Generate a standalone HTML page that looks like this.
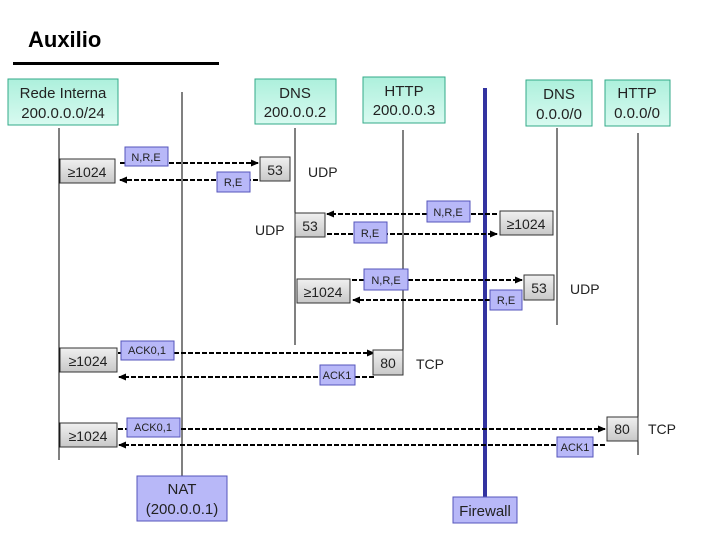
<!DOCTYPE html>
<html><head><style>body{margin:0;background:#fff}svg{display:block}text{font-family:"Liberation Sans",sans-serif}</style></head><body>
<svg width="720" height="540" viewBox="0 0 720 540" xmlns="http://www.w3.org/2000/svg">
<defs>
<linearGradient id="g" x1="0" y1="0" x2="0" y2="1"><stop offset="0" stop-color="#adf0dc"/><stop offset="1" stop-color="#d8faf0"/></linearGradient>
<linearGradient id="gr" x1="0" y1="0" x2="0" y2="1"><stop offset="0" stop-color="#f0f0f0"/><stop offset="1" stop-color="#c8c8c8"/></linearGradient>
<marker id="a" markerWidth="8" markerHeight="8" refX="7" refY="4" orient="auto" markerUnits="userSpaceOnUse"><path d="M0,0.5 L8,4 L0,7.5z" fill="#000"/></marker>
</defs>
<text x="28" y="47" font-size="22" font-weight="bold">Auxilio</text>
<rect x="13" y="62" width="206" height="3" fill="#000"/>
<g stroke="#000" stroke-width="1">
<line x1="59" y1="128" x2="59" y2="460"/>
<line x1="182" y1="92" x2="182" y2="478"/>
<line x1="295" y1="128" x2="295" y2="345"/>
<line x1="403" y1="130" x2="403" y2="370"/>
<line x1="557" y1="128" x2="557" y2="325"/>
<line x1="638" y1="133" x2="638" y2="455"/>
</g>
<line x1="485" y1="88" x2="485" y2="497" stroke="#3333a0" stroke-width="4"/>
<g fill="url(#g)" stroke="#33aa88" stroke-width="1">
<rect x="8" y="79" width="110" height="46"/>
<rect x="255" y="79" width="81" height="45"/>
<rect x="363" y="77" width="82" height="46"/>
<rect x="526" y="80" width="66" height="46"/>
<rect x="605" y="80" width="65" height="46"/>
</g>
<g font-size="15" text-anchor="middle" fill="#222">
<text x="63" y="98">Rede Interna</text><text x="63" y="118">200.0.0.0/24</text>
<text x="295" y="98">DNS</text><text x="295" y="117">200.0.0.2</text>
<text x="404" y="96">HTTP</text><text x="404" y="115">200.0.0.3</text>
<text x="559" y="99">DNS</text><text x="559" y="119">0.0.0/0</text>
<text x="637" y="98">HTTP</text><text x="637" y="118">0.0.0/0</text>
</g>
<g stroke="#000" stroke-width="2" stroke-dasharray="5,2" fill="none" marker-end="url(#a)">
<line x1="120" y1="163" x2="258" y2="163"/>
<line x1="258" y1="180" x2="120" y2="180"/>
<line x1="497" y1="214" x2="327" y2="214"/>
<line x1="327" y1="234" x2="497" y2="234"/>
<line x1="352" y1="280" x2="522" y2="280"/>
<line x1="490" y1="300" x2="353" y2="300"/>
<line x1="118" y1="353" x2="374" y2="353"/>
<line x1="374" y1="377" x2="119" y2="377"/>
<line x1="118" y1="429" x2="605" y2="429"/>
<line x1="605" y1="445" x2="119" y2="445"/>
</g>
<g fill="url(#gr)" stroke="#333" stroke-width="1">
<rect x="60" y="159" width="55" height="24"/>
<rect x="260" y="157" width="30" height="24"/>
<rect x="295" y="213" width="30" height="24"/>
<rect x="500" y="211" width="53" height="24"/>
<rect x="297" y="279" width="53" height="24"/>
<rect x="524" y="275" width="30" height="25"/>
<rect x="60" y="348" width="57" height="24"/>
<rect x="373" y="350" width="30" height="25"/>
<rect x="60" y="423" width="57" height="24"/>
<rect x="607" y="417" width="31" height="24"/>
</g>
<g font-size="14" text-anchor="middle" fill="#222">
<text x="87" y="177">≥1024</text><text x="275" y="175">53</text>
<text x="310" y="231">53</text><text x="526" y="229">≥1024</text>
<text x="323" y="297">≥1024</text><text x="539" y="293">53</text>
<text x="88" y="366">≥1024</text><text x="388" y="368">80</text>
<text x="88" y="441">≥1024</text><text x="622" y="434">80</text>
</g>
<g font-size="14" fill="#222">
<text x="308" y="177">UDP</text><text x="255" y="235">UDP</text>
<text x="570" y="294">UDP</text><text x="416" y="369">TCP</text>
<text x="648" y="434">TCP</text>
</g>
<g fill="#b8b8f8" stroke="#5555bb" stroke-width="1">
<rect x="125" y="147" width="43" height="19"/>
<rect x="217" y="172" width="33" height="20"/>
<rect x="427" y="201" width="43" height="21"/>
<rect x="354" y="222" width="33" height="21"/>
<rect x="364" y="269" width="44" height="21"/>
<rect x="490" y="290" width="32" height="20"/>
<rect x="121" y="341" width="53" height="19"/>
<rect x="320" y="365" width="35" height="20"/>
<rect x="127" y="418" width="53" height="19"/>
<rect x="557" y="437" width="36" height="20"/>
<rect x="137" y="476" width="90" height="45"/>
<rect x="453" y="497" width="64" height="26"/>
</g>
<g font-size="11" text-anchor="middle" fill="#222">
<text x="146" y="161">N,R,E</text><text x="233" y="186">R,E</text>
<text x="448" y="216">N,R,E</text><text x="370" y="237">R,E</text>
<text x="386" y="284">N,R,E</text><text x="506" y="304">R,E</text>
<text x="147" y="354">ACK0,1</text><text x="337" y="379">ACK1</text>
<text x="153" y="431">ACK0,1</text><text x="575" y="451">ACK1</text>
</g>
<g font-size="15" text-anchor="middle" fill="#222">
<text x="182" y="494">NAT</text><text x="182" y="514">(200.0.0.1)</text>
<text x="485" y="516">Firewall</text>
</g>
</svg>
</body></html>
